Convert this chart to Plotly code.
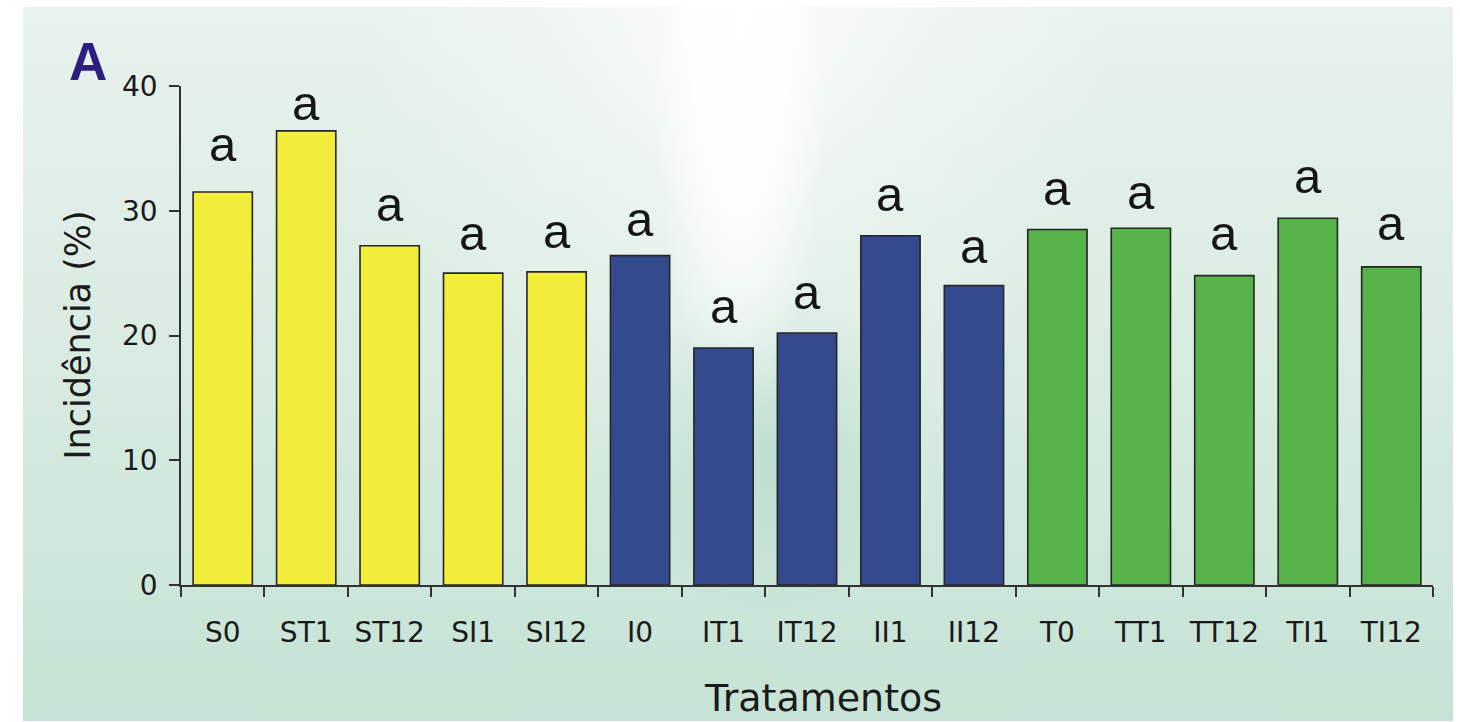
import base64
import plotly.graph_objects as go

# Tratamentos and incidence values (%)
tratamentos = ["S0", "ST1", "ST12", "SI1", "SI12",
               "I0", "IT1", "IT12", "II1", "II12",
               "T0", "TT1", "TT12", "TI1", "TI12"]
incidencia = [31.5, 36.4, 27.2, 25.0, 25.1,
              26.4, 19.0, 20.2, 28.0, 24.0,
              28.5, 28.6, 24.8, 29.4, 25.5]
letras = ["a"] * 15
grupos = ["S"] * 5 + ["I"] * 5 + ["T"] * 5
y_ticks = [0, 10, 20, 30, 40]

# styling
group_colors = {"S": "#f2ec3b", "I": "#334a8f", "T": "#55b348"}
letter_gap_px = [29, 9, 23, 21, 22, 18, 23, 22, 23, 21, 22, 17, 24, 23, 25]

W, H = 1460, 722
ML, MR, MT, MB = 181, 27, 86, 136.5
PW, PH = W - ML - MR, H - MT - MB

# soft mint panel with a white glow in the upper middle
svg = f"""<svg xmlns='http://www.w3.org/2000/svg' width='{W}' height='{H}'>
<defs>
<linearGradient id='base' x1='0' y1='0' x2='0' y2='1'>
<stop offset='0' stop-color='#e9f2ed'/>
<stop offset='0.5' stop-color='#d8ebe1'/>
<stop offset='1' stop-color='#c5e3d4'/>
</linearGradient>
<radialGradient id='glow' cx='0.5' cy='0.5' r='0.5'>
<stop offset='0' stop-color='#ffffff' stop-opacity='1'/>
<stop offset='0.5' stop-color='#ffffff' stop-opacity='0.8'/>
<stop offset='1' stop-color='#ffffff' stop-opacity='0'/>
</radialGradient>
<radialGradient id='wide' cx='0.5' cy='0.5' r='0.5'>
<stop offset='0' stop-color='#ffffff' stop-opacity='0.75'/>
<stop offset='0.5' stop-color='#ffffff' stop-opacity='0.3'/>
<stop offset='1' stop-color='#ffffff' stop-opacity='0'/>
</radialGradient>
<radialGradient id='deep' cx='0.5' cy='0.5' r='0.5'>
<stop offset='0' stop-color='#acd7c2' stop-opacity='0.7'/>
<stop offset='1' stop-color='#acd7c2' stop-opacity='0'/>
</radialGradient>
</defs>
<rect x='0' y='0' width='{W}' height='{H}' fill='#ffffff'/>
<rect x='23' y='7' width='1430' height='{H - 7}' fill='url(#base)'/>
<ellipse cx='770' cy='450' rx='160' ry='170' fill='url(#deep)'/>
<ellipse cx='740' cy='7' rx='380' ry='520' fill='url(#wide)'/>
<ellipse cx='740' cy='7' rx='90' ry='420' fill='url(#glow)'/>
</svg>"""
bg_src = "data:image/svg+xml;base64," + base64.b64encode(svg.encode()).decode()

fig = go.Figure()
fig.add_trace(go.Bar(
    x=tratamentos,
    y=incidencia,
    marker=dict(color=[group_colors[g] for g in grupos],
                line=dict(color="#262626", width=1.6)),
    hoverinfo="x+y",
))

# letters above the bars (baseline lifted by the gap, minus font descent)
descent = 10
for cat, val, lab, gap in zip(tratamentos, incidencia, letras, letter_gap_px):
    fig.add_annotation(x=cat, y=val, text=lab, showarrow=False,
                       xref="x", yref="y", yanchor="bottom",
                       yshift=gap - descent,
                       font=dict(family="Liberation Sans", size=49, color="#161616"))

# panel letter
fig.add_annotation(x=(87.5 - ML) / PW, y=(MT + PH - 61.6) / PH, xref="paper", yref="paper",
                   text="<b>A</b>", showarrow=False, xanchor="center", yanchor="middle",
                   font=dict(family="Liberation Sans", size=53, color="#2d1f7f"))
# axis titles
fig.add_annotation(x=(823 - ML) / PW, y=(MT + PH - 699) / PH, xref="paper", yref="paper",
                   text="Tratamentos", showarrow=False, xanchor="center", yanchor="middle",
                   font=dict(family="DejaVu Sans", size=38, color="#1a1a1a"))
fig.add_annotation(x=(78 - ML) / PW, y=(MT + PH - 335) / PH, xref="paper", yref="paper",
                   text="Incidência (%)", textangle=-90, showarrow=False,
                   xanchor="center", yanchor="middle",
                   font=dict(family="DejaVu Sans", size=35, color="#1a1a1a"))

fig.update_layout(
    width=W, height=H,
    margin=dict(l=ML, r=MR, t=MT, b=MB, pad=0),
    paper_bgcolor="#ffffff",
    plot_bgcolor="rgba(0,0,0,0)",
    bargap=0.29,
    showlegend=False,
    images=[dict(source=bg_src, xref="paper", yref="paper",
                 x=-ML / PW, y=1 + MT / PH, sizex=W / PW, sizey=H / PH,
                 xanchor="left", yanchor="top", sizing="stretch", layer="below")],
)
fig.update_xaxes(
    range=[-0.5, 14.5], showline=True, linecolor="#333333", linewidth=1.5,
    ticks="outside", tickson="boundaries", ticklen=10, tickwidth=1.5, tickcolor="#333333",
    showgrid=False, zeroline=False, ticklabelstandoff=22,
    tickfont=dict(family="DejaVu Sans", size=28, color="#1a1a1a"),
)
fig.update_yaxes(
    range=[0, 40], tickvals=y_ticks, showline=True, linecolor="#333333", linewidth=1.5,
    ticks="outside", ticklen=10, tickwidth=1.5, tickcolor="#333333",
    showgrid=False, zeroline=False, ticklabelstandoff=6,
    tickfont=dict(family="DejaVu Sans", size=28, color="#1a1a1a"),
)

fig.write_html("out.html")
